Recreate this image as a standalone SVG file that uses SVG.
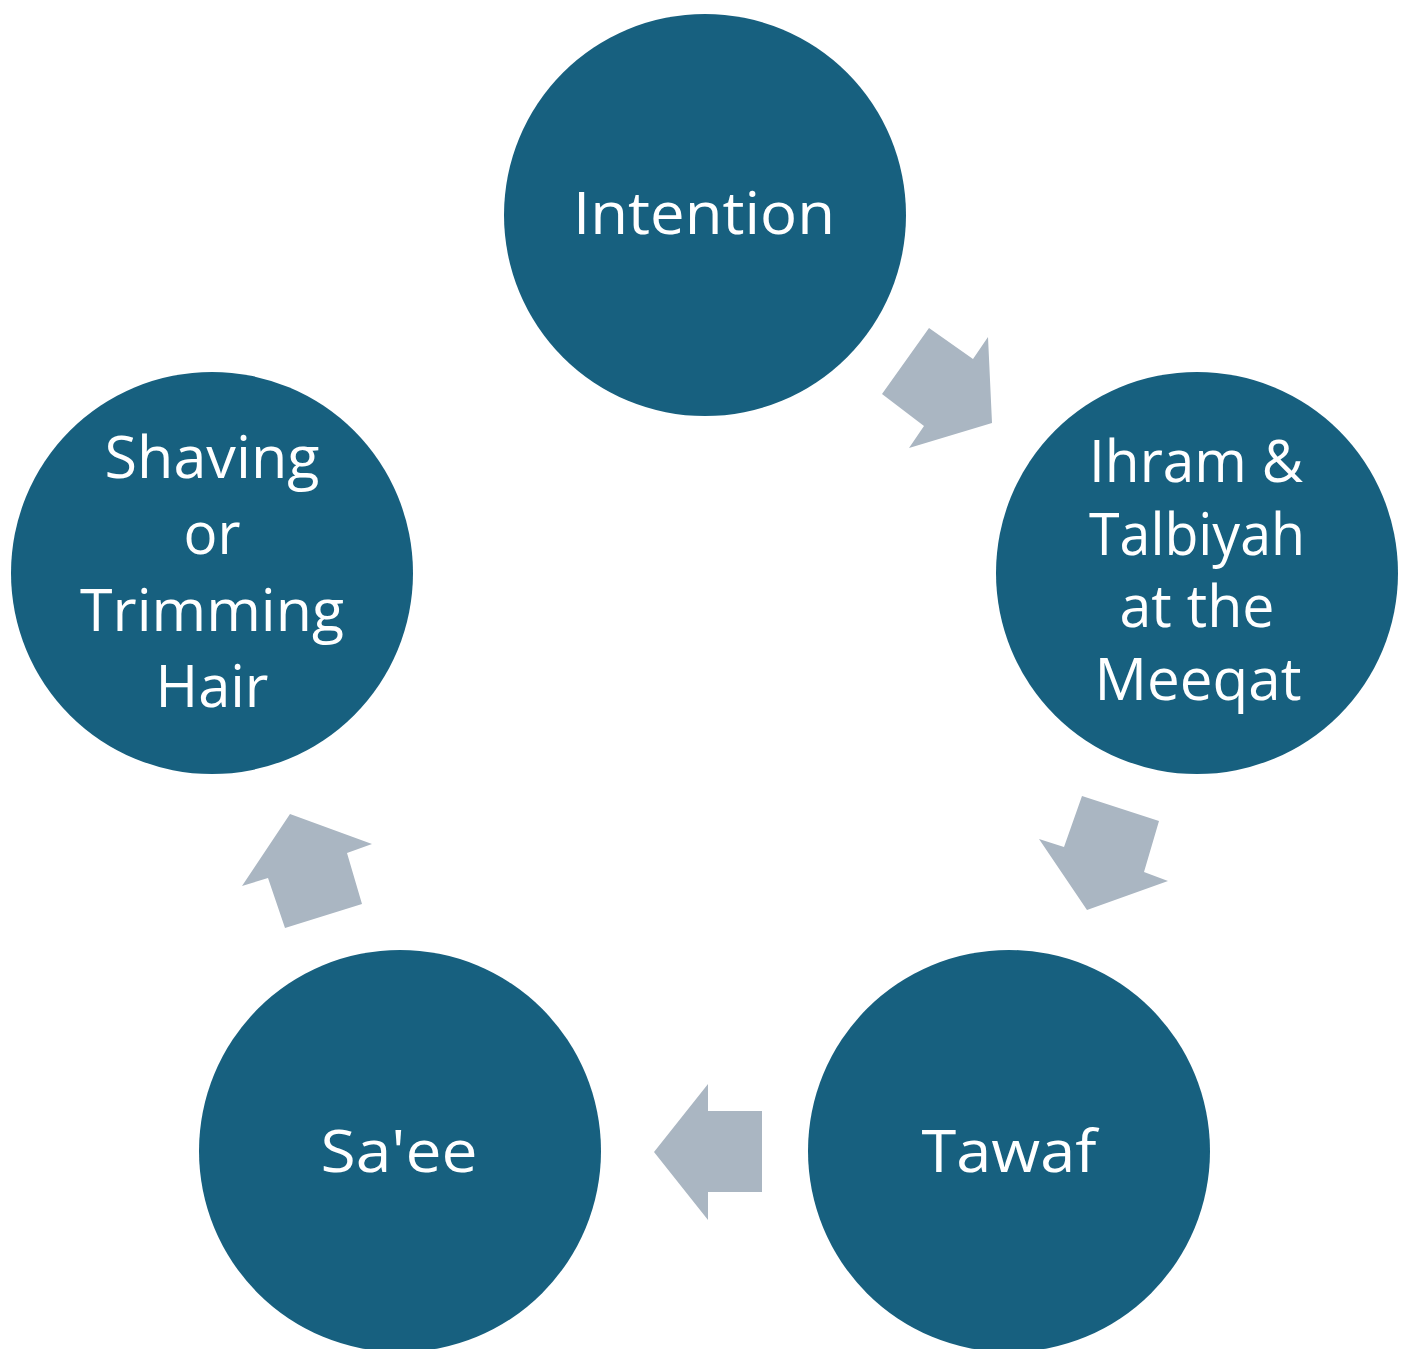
<svg xmlns="http://www.w3.org/2000/svg" width="1408" height="1349" viewBox="0 0 1408 1349">
<style>
.node{fill:#17607F;}
.arrow{fill:#AAB6C2;}
.lbl{fill:#FFFFFF;font-family:"Open Sans","Noto Sans",sans-serif;font-size:59px;text-anchor:middle;}
</style>
<rect width="1408" height="1349" fill="#FFFFFF"/>
<g id="connectors">
<polygon class="arrow" points="929,328 973,359 988,337 992,423 909,448 924,426 882,394"/>
<polygon class="arrow" points="1082,796 1159,821 1144,872 1168,881 1087,910 1039,839 1064,847"/>
<polygon class="arrow" points="762,1111 708,1111 708,1084 654,1152 708,1220 708,1192 762,1192"/>
<polygon class="arrow" points="285,928 362,904 347,853 372,844 290,814 242,886 268,878"/>
</g>
<g id="node-intention">
<circle class="node" cx="705" cy="215" r="201"/>
<text class="lbl" x="704" y="234" textLength="262" lengthAdjust="spacingAndGlyphs">Intention</text>
</g>
<g id="node-ihram">
<circle class="node" cx="1197" cy="573" r="201"/>
<text class="lbl" x="1196" y="482" textLength="214" lengthAdjust="spacingAndGlyphs">Ihram &amp;</text>
<text class="lbl" x="1197" y="555" textLength="216" lengthAdjust="spacingAndGlyphs">Talbiyah</text>
<text class="lbl" x="1197" y="627" textLength="155" lengthAdjust="spacingAndGlyphs">at the</text>
<text class="lbl" x="1198" y="700" textLength="207" lengthAdjust="spacingAndGlyphs">Meeqat</text>
</g>
<g id="node-tawaf">
<circle class="node" cx="1009" cy="1151" r="201"/>
<text class="lbl" x="1009" y="1172" textLength="175" lengthAdjust="spacingAndGlyphs">Tawaf</text>
</g>
<g id="node-saee">
<circle class="node" cx="400" cy="1151" r="201"/>
<text class="lbl" x="399" y="1172" textLength="157" lengthAdjust="spacingAndGlyphs">Sa'ee</text>
</g>
<g id="node-shaving">
<circle class="node" cx="212" cy="573" r="201"/>
<text class="lbl" x="212" y="478" textLength="215" lengthAdjust="spacingAndGlyphs">Shaving</text>
<text class="lbl" x="212" y="554" textLength="57" lengthAdjust="spacingAndGlyphs">or</text>
<text class="lbl" x="212" y="631" textLength="264" lengthAdjust="spacingAndGlyphs">Trimming</text>
<text class="lbl" x="212" y="707" textLength="113" lengthAdjust="spacingAndGlyphs">Hair</text>
</g>
</svg>
